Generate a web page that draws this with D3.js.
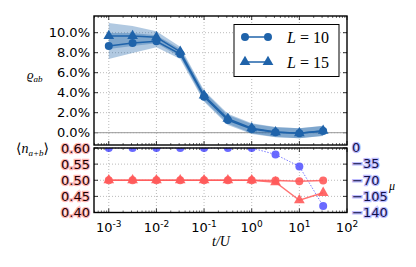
<!DOCTYPE html>
<html>
<head>
<meta charset="utf-8">
<script src="https://cdn.jsdelivr.net/npm/d3@7"></script>
<style>
body { margin:0; background:#fff; }
text { font-family: "DejaVu Sans", sans-serif; }
.math { font-family: "Liberation Serif", "DejaVu Serif", serif; }
</style>
</head>
<body>
<script>
const width = 416;
const height = 267;

// t/U sample points (log spaced, half decades)
const tU = [1e-3, 3.16e-3, 1e-2, 3.16e-2, 1e-1, 3.16e-1, 1, 3.16, 10, 31.6];

// rho_ab (fraction) for L=10 (circles) and L=15 (triangles)
const rhoL10 = [0.0867, 0.0897, 0.0914, 0.0787, 0.0360, 0.0127, 0.0037, 0.0004, -0.0006, 0.0017];
const rhoL15 = [0.0967, 0.0967, 0.0954, 0.0810, 0.0372, 0.0140, 0.0045, 0.0006, -0.0005, 0.0020];
const errL10 = [0.013, 0.010, 0.006, 0.005, 0.005, 0.005, 0.005, 0.005, 0.005, 0.005];
const errL15 = [0.013, 0.010, 0.006, 0.005, 0.005, 0.005, 0.005, 0.005, 0.005, 0.005];

// <n_{a+b}> and chemical potential mu
const nL10 = [0.500, 0.500, 0.500, 0.500, 0.500, 0.500, 0.500, 0.499, 0.497, 0.499];
const nL15 = [0.500, 0.500, 0.500, 0.500, 0.500, 0.500, 0.500, 0.494, 0.438, 0.461];
const mu = [0, 0, 0, 0, 0, 0, 0, -14, -40, -126];

const rhoTicks = [0, 0.02, 0.04, 0.06, 0.08, 0.10];
const nTicks = [0.40, 0.45, 0.50, 0.55, 0.60];
const muTicks = [0, -35, -70, -105, -140];
const xTicks = [1e-3, 1e-2, 1e-1, 1, 10, 100];

const blue = "#1f63aa";
const red = "#ff5a5a";
const violet = "#5a5aff";

const svg = d3.select("body").append("svg")
  .attr("width", width)
  .attr("height", height);

const x = d3.scaleLog().domain([Math.pow(10, -3.31), 100]).range([94, 347]);
const yTop = d3.scaleLinear().domain([-0.0123, 0.1167]).range([145, 16]);
const yBot = d3.scaleLinear().domain([0.4, 0.6]).range([212.5, 148]);
const yMu = d3.scaleLinear().domain([-140, 0]).range([212.5, 148]);

const defs = svg.append("defs");
defs.append("clipPath").attr("id", "clipTop").append("rect")
  .attr("x", 94).attr("y", 16).attr("width", 253).attr("height", 129);
defs.append("clipPath").attr("id", "clipBot").append("rect")
  .attr("x", 94).attr("y", 148).attr("width", 253).attr("height", 64.5);

// minor log ticks
const minor = [];
for (let e = -4; e < 2; e++) for (let k = 2; k <= 9; k++) {
  const v = k * Math.pow(10, e);
  if (v > x.domain()[0] && v < 100) minor.push(v);
}

function panelFrame(g, y0, y1, yScale, yt) {
  // grid
  g.append("g").selectAll("line").data(xTicks.filter(d => d < 100)).join("line")
    .attr("x1", d => x(d)).attr("x2", d => x(d))
    .attr("y1", y0).attr("y2", y1)
    .attr("stroke", "#aaa").attr("stroke-width", 0.8).attr("stroke-dasharray", "1,2");
  g.append("g").selectAll("line").data(yt).join("line")
    .attr("x1", 94).attr("x2", 347)
    .attr("y1", d => yScale(d)).attr("y2", d => yScale(d))
    .attr("stroke", "#aaa").attr("stroke-width", 0.8).attr("stroke-dasharray", "1,2");
  // x ticks inside, top and bottom
  [y0, y1].forEach((yy, i) => {
    const dir = i === 0 ? 1 : -1;
    g.append("g").selectAll("line").data(xTicks).join("line")
      .attr("x1", d => x(d)).attr("x2", d => x(d))
      .attr("y1", yy).attr("y2", yy + dir * 4)
      .attr("stroke", "#000").attr("stroke-width", 0.8);
    g.append("g").selectAll("line").data(minor).join("line")
      .attr("x1", d => x(d)).attr("x2", d => x(d))
      .attr("y1", yy).attr("y2", yy + dir * 2)
      .attr("stroke", "#000").attr("stroke-width", 0.6);
  });
  // y ticks inside both sides
  g.append("g").selectAll("line").data(yt).join("line")
    .attr("x1", 94).attr("x2", 98)
    .attr("y1", d => yScale(d)).attr("y2", d => yScale(d))
    .attr("stroke", "#000").attr("stroke-width", 0.8);
  g.append("g").selectAll("line").data(yt).join("line")
    .attr("x1", 347).attr("x2", 343)
    .attr("y1", d => yScale(d)).attr("y2", d => yScale(d))
    .attr("stroke", "#000").attr("stroke-width", 0.8);
}

// ---------- top panel ----------
const topPanel = svg.append("g");
panelFrame(topPanel, 16, 145, yTop, rhoTicks);
topPanel.append("line")
  .attr("x1", 94).attr("x2", 347)
  .attr("y1", yTop(0)).attr("y2", yTop(0))
  .attr("stroke", "#999").attr("stroke-width", 1);

const topData = [
  {vals: rhoL10, err: errL10, marker: "circle"},
  {vals: rhoL15, err: errL15, marker: "triangle"}
];
const plotTop = topPanel.append("g").attr("clip-path", "url(#clipTop)");
topData.forEach(s => {
  const pts = tU.map((t, i) => ({t, v: s.vals[i], e: s.err[i]}));
  plotTop.append("path").datum(pts)
    .attr("fill", blue).attr("fill-opacity", 0.35)
    .attr("d", d3.area().x(d => x(d.t)).y0(d => yTop(d.v - d.e)).y1(d => yTop(d.v + d.e)));
});
topData.forEach(s => {
  const pts = tU.map((t, i) => ({t, v: s.vals[i]}));
  plotTop.append("path").datum(pts)
    .attr("fill", "none").attr("stroke", blue).attr("stroke-width", 1.5)
    .attr("d", d3.line().x(d => x(d.t)).y(d => yTop(d.v)));
  const sym = d3.symbol().type(s.marker === "circle" ? d3.symbolCircle : d3.symbolTriangle)
    .size(50);
  plotTop.append("g").selectAll("path").data(pts).join("path")
    .attr("transform", d => `translate(${x(d.t)},${yTop(d.v)})`)
    .attr("d", sym).attr("fill", blue);
});

topPanel.append("rect")
  .attr("x", 94).attr("y", 16).attr("width", 253).attr("height", 129)
  .attr("fill", "none").attr("stroke", "#000").attr("stroke-width", 1.4);

topPanel.append("g").selectAll("text").data(rhoTicks).join("text")
  .attr("x", 90).attr("y", d => yTop(d)).attr("dy", "0.36em")
  .attr("text-anchor", "end").attr("font-size", 13)
  .text(d => (d * 100).toFixed(1) + "%");

const ylab = svg.append("text").attr("class", "math").attr("x", 27).attr("y", 79).attr("font-size", 13);
ylab.append("tspan").attr("font-style", "italic").text("ϱ");
ylab.append("tspan").attr("font-style", "italic").attr("font-size", 9).attr("dy", 3).text("ab");

// legend
const leg = svg.append("g");
leg.append("rect").attr("x", 234).attr("y", 24.5).attr("width", 105).attr("height", 52)
  .attr("fill", "#fff").attr("stroke", "#000").attr("stroke-width", 1);
[["circle", "10", 37], ["triangle", "15", 62]].forEach(([m, n, yy]) => {
  leg.append("line").attr("x1", 245).attr("x2", 268).attr("y1", yy).attr("y2", yy)
    .attr("stroke", blue).attr("stroke-width", 1.5);
  const sym = d3.symbol().type(m === "circle" ? d3.symbolCircle : d3.symbolTriangle)
    .size(50);
  [245, 268].forEach(xx => leg.append("path")
    .attr("transform", `translate(${xx},${yy})`).attr("d", sym).attr("fill", blue));
  const t = leg.append("text").attr("class", "math").attr("x", 287).attr("y", yy).attr("dy", "0.35em")
    .attr("font-size", 16);
  t.append("tspan").attr("font-style", "italic").text("L");
  t.append("tspan").text(" = " + n);
});

// ---------- bottom panel ----------
const botPanel = svg.append("g");
panelFrame(botPanel, 148, 212.5, yBot, nTicks);
const plotBot = botPanel.append("g").attr("clip-path", "url(#clipBot)");

const muPts = tU.map((t, i) => ({t, v: mu[i]}));
plotBot.append("path").datum(muPts)
  .attr("fill", "none").attr("stroke", violet).attr("stroke-width", 1).attr("stroke-opacity", 0.8)
  .attr("stroke-dasharray", "1.5,1.5")
  .attr("d", d3.line().x(d => x(d.t)).y(d => yMu(d.v)));
plotBot.append("g").selectAll("circle").data(muPts).join("circle")
  .attr("cx", d => x(d.t)).attr("cy", d => yMu(d.v)).attr("r", 4)
  .attr("fill", violet).attr("fill-opacity", 0.9);

[{vals: nL15, marker: d3.symbolTriangle, size: 50}, {vals: nL10, marker: d3.symbolCircle, size: 50}].forEach(s => {
  const pts = tU.map((t, i) => ({t, v: s.vals[i]}));
  plotBot.append("path").datum(pts)
    .attr("fill", "none").attr("stroke", red).attr("stroke-width", 1.5).attr("stroke-opacity", 0.85)
    .attr("d", d3.line().x(d => x(d.t)).y(d => yBot(d.v)));
  plotBot.append("g").selectAll("path").data(pts).join("path")
    .attr("transform", d => `translate(${x(d.t)},${yBot(d.v)})`)
    .attr("d", d3.symbol().type(s.marker).size(s.size)).attr("fill", red).attr("fill-opacity", 0.9);
});

botPanel.append("rect")
  .attr("x", 94).attr("y", 148).attr("width", 253).attr("height", 64.5)
  .attr("fill", "none").attr("stroke", "#000").attr("stroke-width", 1.4);

botPanel.append("g").selectAll("text").data(nTicks).join("text")
  .attr("x", 90).attr("y", d => yBot(d)).attr("dy", "0.36em")
  .attr("text-anchor", "end").attr("font-size", 13)
  .attr("fill", "#220000").attr("stroke", "#ff6060").attr("stroke-opacity", 0.45)
  .attr("stroke-width", 2.5).attr("paint-order", "stroke")
  .text(d => d.toFixed(2));

botPanel.append("g").selectAll("text").data(muTicks).join("text")
  .attr("x", 352).attr("y", d => yMu(d)).attr("dy", "0.33em")
  .attr("text-anchor", "start").attr("font-size", 13)
  .attr("fill", "#10104a").attr("stroke", "#6a6aff").attr("stroke-opacity", 0.45)
  .attr("stroke-width", 2.5).attr("paint-order", "stroke")
  .text(d => d === 0 ? "0" : "\u2212" + Math.abs(d));

svg.append("text").attr("class", "math").attr("x", 389).attr("y", 190)
  .attr("font-size", 12).attr("font-style", "italic").text("μ");

const nlab = svg.append("text").attr("class", "math").attr("x", 16).attr("y", 153).attr("font-size", 14);
nlab.append("tspan").text("⟨");
nlab.append("tspan").attr("font-style", "italic").text("n");
nlab.append("tspan").attr("font-style", "italic").attr("font-size", 9).attr("dy", 3).text("a+b");
nlab.append("tspan").attr("dy", -3).text("⟩");

// x tick labels
const xl = svg.append("g").selectAll("text").data(xTicks).join("text")
  .attr("x", d => x(d)).attr("y", 232).attr("text-anchor", "middle").attr("font-size", 13);
xl.append("tspan").text("10");
xl.append("tspan").attr("font-size", 9).attr("dy", -5).text(d => {
  const e = Math.round(Math.log10(d));
  return e < 0 ? "-" + Math.abs(e) : String(e);
});

const xlab = svg.append("text").attr("class", "math").attr("x", 221).attr("y", 246)
  .attr("text-anchor", "middle").attr("font-size", 14).attr("font-style", "italic");
xlab.text("t/U");
</script>
</body>
</html>
